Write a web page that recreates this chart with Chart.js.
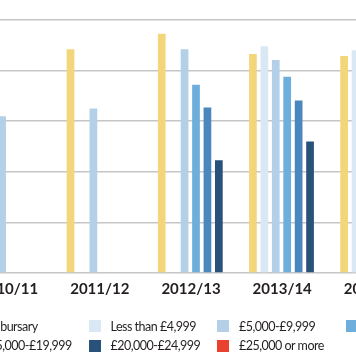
<!DOCTYPE html>
<html>
<head>
<meta charset="utf-8">
<script src="https://cdn.jsdelivr.net/npm/chart.js@4/dist/chart.umd.min.js"></script>
<style>
  html, body { margin: 0; padding: 0; width: 356px; height: 364px; overflow: hidden; background: #ffffff; }
  #wrap { position: absolute; left: -60px; top: 0; width: 500px; height: 305px; }
  #legend { position: absolute; left: 0; top: 0; width: 356px; height: 364px; pointer-events: none; }
  .item { position: absolute; display: flex; align-items: center; white-space: nowrap;
          font-family: Lato, "Open Sans", sans-serif; font-size: 12.5px; letter-spacing: -0.5px; color: #231f20; }
  .box { width: 12px; height: 12px; margin-right: 10px; flex: none; }
</style>
</head>
<body>
<div id="wrap"><canvas id="c" width="500" height="305"></canvas></div>
<div id="legend"></div>
<script>
const categories = ['2010/11', '2011/12', '2012/13', '2013/14', '2014/15'];
const seriesNames = ['No bursary', 'Less than £4,999', '£5,000-£9,999', '£10,000-£14,999',
                     '£15,000-£19,999', '£20,000-£24,999', '£25,000 or more'];
const noBursary    = [1900, 2210, 2365, 2165, 2145];
const lessThan5k   = [null, null, null, 2240, 2200];
const from5kTo10k  = [1550, 1625, 2210, 2105, 2150];
const from10kTo15k = [null, null, 1860, 1940, 1980];
const from15kTo20k = [null, null, 1635, 1705, 1750];
const from20kTo25k = [null, null, 1115, 1300, 1400];
const over25k      = [null, null, null, null, 900];
const yTicks = [0, 500, 1000, 1500, 2000, 2500];

const colors = ['#f4d67a', '#dae8f5', '#b4d0e8', '#6eaedc', '#4a87bc', '#28527a', '#e9402f'];
const seriesValues = [noBursary, lessThan5k, from5kTo10k, from10kTo15k, from15kTo20k, from20kTo25k, over25k];

const datasets = seriesNames.map((name, i) => ({
  label: name,
  data: seriesValues[i],
  backgroundColor: colors[i],
  borderWidth: 0,
  categoryPercentage: 0.877,
  barPercentage: 0.675
}));

new Chart(document.getElementById('c'), {
  type: 'bar',
  data: { labels: categories, datasets: datasets },
  options: {
    responsive: false,
    animation: false,
    layout: { padding: { left: 28, right: 16, top: 20, bottom: 0 } },
    plugins: { legend: { display: false }, tooltip: { enabled: false } },
    scales: {
      x: {
        grid: { display: false, drawTicks: false },
        border: { display: false },
        ticks: {
          padding: 7,
          labelOffset: -5,
          color: '#231f20',
          font: { family: 'Lato, "Open Sans", sans-serif', size: 15, weight: 'bold' }
        }
      },
      y: {
        min: yTicks[0],
        max: yTicks[yTicks.length - 1],
        afterBuildTicks: (axis) => { axis.ticks = yTicks.map(v => ({ value: v })); },
        grid: { color: '#c6c6c6', lineWidth: 1.5, drawTicks: false },
        border: { display: false },
        ticks: { display: false }
      }
    }
  }
});

// HTML legend built from the datasets (4 columns, 2 rows)
const legend = document.getElementById('legend');
datasets.forEach((ds, i) => {
  const col = i % 4, row = Math.floor(i / 4);
  const el = document.createElement('div');
  el.className = 'item';
  el.style.left = (-40 + col * 128.5) + 'px';
  el.style.top = (318 + row * 19.5) + 'px';
  el.style.height = '16px';
  const b = document.createElement('span');
  b.className = 'box';
  b.style.background = ds.backgroundColor;
  const t = document.createElement('span');
  t.textContent = ds.label;
  el.appendChild(b); el.appendChild(t);
  legend.appendChild(el);
});
</script>
</body>
</html>
